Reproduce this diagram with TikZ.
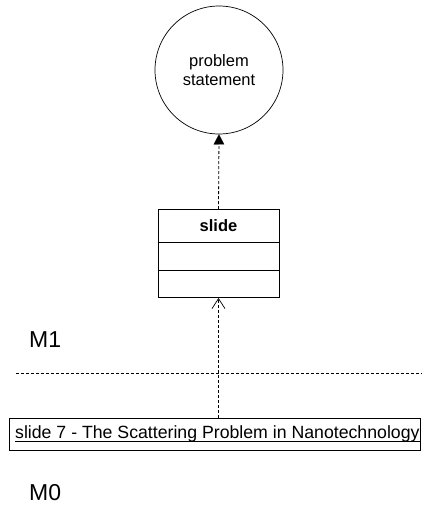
\documentclass[tikz,border=0pt]{standalone}
\usepackage{fontspec}
\setmainfont{Liberation Sans}
\usetikzlibrary{arrows.meta}
\begin{document}
\begin{tikzpicture}[x=1pt,y=-1pt,
  txt/.style={font=\fontsize{16.5}{19}\selectfont},
  lvl/.style={font=\fontsize{23}{26}\selectfont, anchor=west, inner sep=0},
  dep/.style={dash pattern=on 3pt off 2pt, line width=0.8pt},
  box/.style={draw, line width=0.9pt, inner sep=0}]
  \useasboundingbox (0,0) rectangle (422,509);

  % concept
  \node[circle, draw, line width=0.7pt, minimum size=128pt, txt, align=center, inner sep=0]
    (ps) at (219,70) {problem\\statement};

  % class box with two empty compartments
  \node[box, minimum width=121pt, minimum height=88pt] (slide) at (218.5,253.5) {};
  \node[txt, font=\fontsize{16.5}{19}\selectfont\bfseries] (slidename) at (218.5,226) {slide};
  \draw[line width=0.9pt] (slide.west |- 0,242) coordinate (r1w) -- (slide.east |- 0,242) coordinate (r1e);
  \draw[line width=0.9pt] (slide.west |- 0,270) coordinate (r2w) -- (slide.east |- 0,270) coordinate (r2e);

  % instance, with its name underlined
  \node[box, line width=0.9pt, minimum width=411pt, minimum height=32pt]
    (inst) at (214.5,434) {};
  \node[anchor=base west, inner sep=0, font=\fontsize{17.7}{19}\selectfont]
    (instname) at (15,438.5) {slide 7 - The Scattering Problem in Nanotechnology};
  \draw[line width=0.8pt] ([yshift=-2.5pt]instname.base west) -- ([yshift=-2.5pt]instname.base east);

  % level separator and labels
  \coordinate (sepL) at (16,373);
  \coordinate (sepR) at (422,373);
  \draw[dep] (sepL) -- (sepR);
  \node[lvl] (m1) at (29,340) {M1};
  \node[lvl] (m0) at (29,493) {M0};

  % connectors
  \draw[dep, -{Triangle[length=10pt,width=10.5pt,line width=0.1pt]}] (slide.north) -- (ps.south);
  \draw[dep, -{Straight Barb[length=10pt,width=13pt,line width=0.7pt]}] (inst.north -| slide.south) -- (slide.south);
\end{tikzpicture}
\end{document}
